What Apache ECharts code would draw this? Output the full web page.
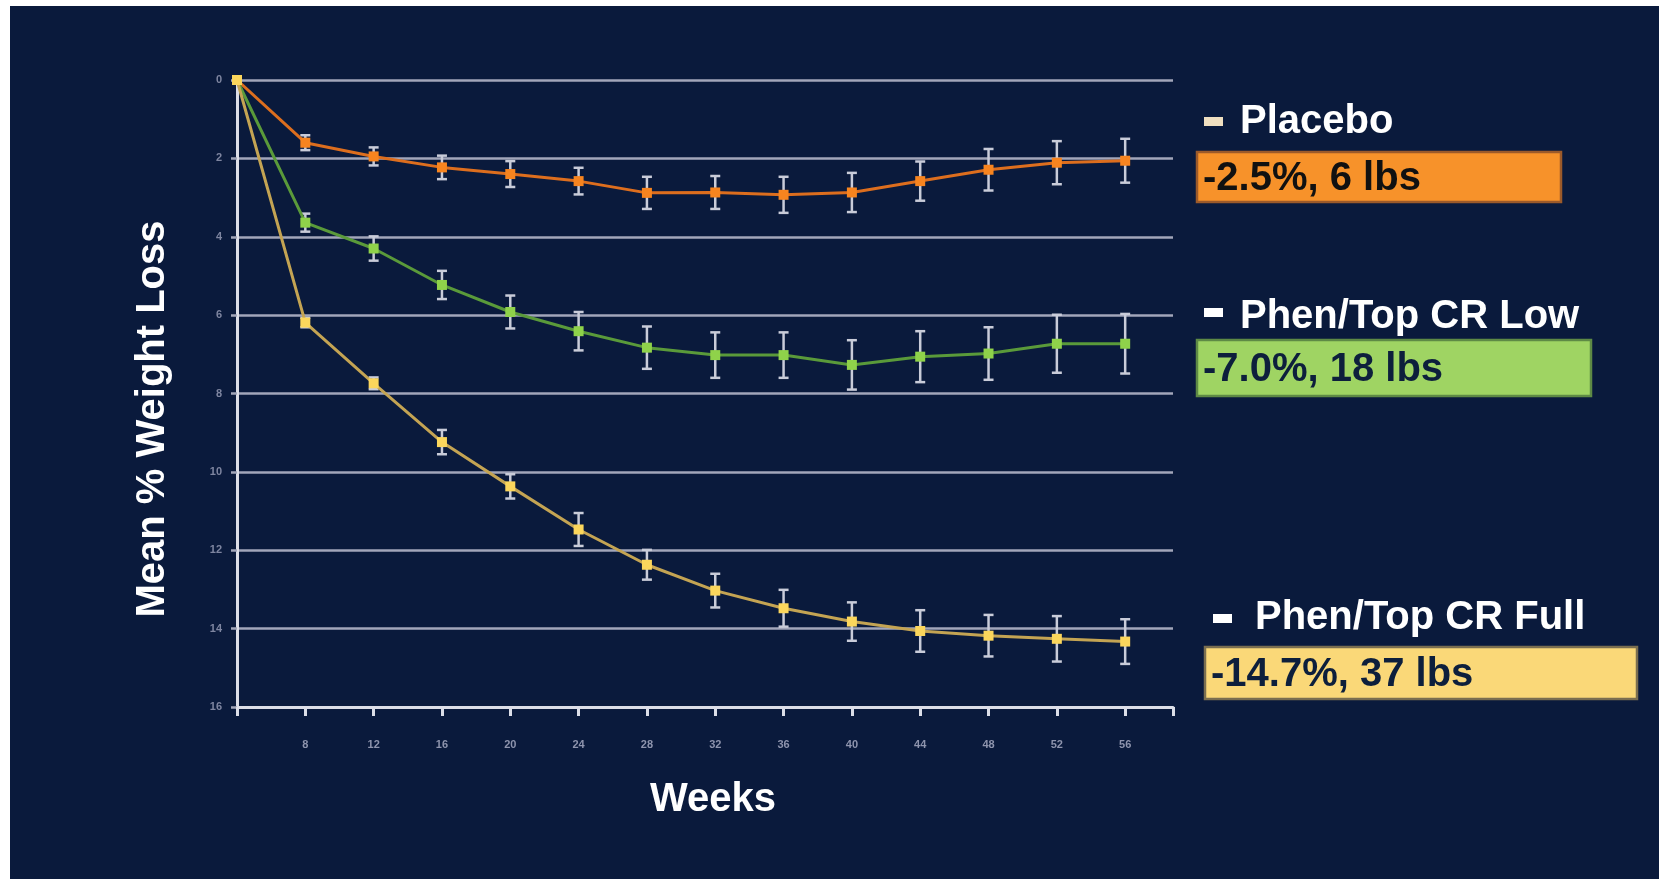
<!DOCTYPE html>
<html>
<head>
<meta charset="utf-8">
<title>Mean % Weight Loss by Week</title>
<script src="https://cdn.jsdelivr.net/npm/echarts@6/dist/echarts.min.js"></script>
<style>
  html, body { margin: 0; padding: 0; background: #ffffff; width: 1659px; height: 879px; overflow: hidden; }
  #chart { position: absolute; left: 10px; top: 6px; width: 1649px; height: 873px; }
</style>
</head>
<body>
<div id="chart"></div>
<script>
// Study weeks (category positions along the x axis)
const weeks = ['0', '8', '12', '16', '20', '24', '28', '32', '36', '40', '44', '48', '52', '56'];
// Y-axis tick labels (mean % weight loss, drawn downward)
const yTicks = [0, 2, 4, 6, 8, 10, 12, 14, 16];

// Mean % weight loss per group, with half-width of the error bars
const placebo    = [0, 1.60, 1.95, 2.23, 2.40, 2.58, 2.88, 2.87, 2.93, 2.87, 2.58, 2.29, 2.11, 2.06];
const placeboErr = [0, 0.19, 0.23, 0.30, 0.33, 0.34, 0.41, 0.42, 0.46, 0.50, 0.50, 0.53, 0.55, 0.56];
const low        = [0, 3.64, 4.30, 5.23, 5.92, 6.41, 6.83, 7.02, 7.02, 7.27, 7.06, 6.98, 6.73, 6.73];
const lowErr     = [0, 0.23, 0.31, 0.36, 0.42, 0.49, 0.54, 0.58, 0.58, 0.63, 0.65, 0.67, 0.74, 0.76];
const full       = [0, 6.19, 7.74, 9.24, 10.37, 11.47, 12.37, 13.03, 13.48, 13.82, 14.06, 14.18, 14.26, 14.33];
const fullErr    = [0, 0.12, 0.15, 0.31, 0.31, 0.42, 0.38, 0.43, 0.47, 0.49, 0.53, 0.53, 0.58, 0.57];

// Group names and summary figures shown beside the plot
const groupNames = ['Placebo', 'Phen/Top CR Low', 'Phen/Top CR Full'];
const groupSummaries = ['-2.5%, 6 lbs', '-7.0%, 18 lbs', '-14.7%, 37 lbs'];

const BG = '#0a1a3c';
const GRID = '#a2a6ba';
const AXIS = '#dcdee8';
const ERR = '#c9ccd9';

function pts(values) { return weeks.map((w, i) => [i, values[i]]); }
function errPts(values, errs) {
  return weeks.map((w, i) => [i, values[i], errs[i]]).filter(d => d[2] > 0);
}

function errorBars(params, api) {
  const x = api.value(0), y = api.value(1), e = api.value(2);
  const top = api.coord([x, y - e]);
  const bot = api.coord([x, y + e]);
  const hw = 5;
  const style = { stroke: ERR, lineWidth: 2.5 };
  return {
    type: 'group',
    children: [
      { type: 'line', shape: { x1: top[0], y1: top[1], x2: bot[0], y2: bot[1] }, style: style },
      { type: 'line', shape: { x1: top[0] - hw, y1: top[1], x2: top[0] + hw, y2: top[1] }, style: style },
      { type: 'line', shape: { x1: bot[0] - hw, y1: bot[1], x2: bot[0] + hw, y2: bot[1] }, style: style }
    ]
  };
}

function lineSeries(name, values, lineColor, markColor) {
  return {
    name: name,
    type: 'line',
    data: pts(values),
    z: 4,
    symbol: 'rect',
    symbolSize: 10,
    showAllSymbol: true,
    lineStyle: { color: lineColor, width: 3 },
    itemStyle: { color: markColor },
    emphasis: { disabled: true },
    animation: false
  };
}

function errSeries(values, errs) {
  return {
    type: 'custom',
    renderItem: errorBars,
    data: errPts(values, errs),
    z: 3,
    silent: true,
    animation: false
  };
}

const labelFont = 'Liberation Sans, Arial, sans-serif';
const big = 'bold 40px ' + labelFont;

function legendBlock(idx, dash, text, box, fill, stroke, textColor, dashColor) {
  return [
    { type: 'rect', shape: { x: dash[0], y: dash[1], width: 19, height: 9 }, style: { fill: dashColor } },
    { type: 'text', x: text[0], y: text[1],
      style: { text: groupNames[idx], font: big, fill: '#ffffff', verticalAlign: 'middle', align: 'left' } },
    { type: 'rect', shape: { x: box[0], y: box[1], width: box[2], height: box[3] },
      style: { fill: fill, stroke: stroke, lineWidth: 2.5 } },
    { type: 'text', x: box[0] + 6, y: box[1] + box[3] / 2 + 2,
      style: { text: groupSummaries[idx], font: big, fill: textColor, verticalAlign: 'middle', align: 'left' } }
  ];
}

const chart = echarts.init(document.getElementById('chart'), null, { renderer: 'canvas' });
chart.setOption({
  backgroundColor: BG,
  animation: false,
  grid: { left: 227, top: 74, width: 936, height: 627, containLabel: false },
  xAxis: {
    type: 'value',
    min: 0,
    max: 13.7,
    interval: 1,
    axisLine: { show: true, onZero: false, lineStyle: { color: AXIS, width: 3 } },
    axisTick: { show: true, length: 9, lineStyle: { color: AXIS, width: 3 } },
    splitLine: { show: false },
    axisLabel: {
      margin: 32,
      color: '#8e94ad',
      fontSize: 11,
      fontWeight: 'bold',
      fontFamily: labelFont,
      formatter: v => (Number.isInteger(v) && v > 0 && v < weeks.length) ? weeks[v] : ''
    }
  },
  yAxis: {
    type: 'value',
    inverse: true,
    min: yTicks[0],
    max: yTicks[yTicks.length - 1],
    interval: 2,
    axisLine: { show: true, onZero: false, lineStyle: { color: AXIS, width: 3 } },
    axisTick: { show: true, length: 6, lineStyle: { color: GRID, width: 2.5 } },
    splitLine: { show: true, lineStyle: { color: GRID, width: 2.5 } },
    axisLabel: {
      margin: 15,
      color: '#7e85a0',
      fontSize: 11,
      fontWeight: 'bold',
      fontFamily: labelFont,
      formatter: v => yTicks.indexOf(v) >= 0 ? String(v) : ''
    }
  },
  series: [
    errSeries(placebo, placeboErr),
    errSeries(low, lowErr),
    errSeries(full, fullErr),
    lineSeries(groupNames[0], placebo, '#dd6e1e', '#f7841f'),
    lineSeries(groupNames[1], low, '#5a9a3a', '#8fd24a'),
    lineSeries(groupNames[2], full, '#c4a453', '#fbd65c')
  ],
  graphic: [
    { type: 'text', x: 703, y: 794,
      style: { text: 'Weeks', font: big, fill: '#ffffff', align: 'center', verticalAlign: 'middle' } },
    { type: 'text', x: 143, y: 413, rotation: Math.PI / 2,
      style: { text: 'Mean % Weight Loss', font: big, fill: '#ffffff', align: 'center', verticalAlign: 'middle' } }
  ]
    .concat(legendBlock(0, [1194, 111], [1230, 116], [1187, 146, 364, 50], '#f7922a', '#9c5a2a', '#111111', '#efdfc0'))
    .concat(legendBlock(1, [1194, 302], [1230, 311], [1187, 334, 394, 56], '#9fd463', '#5e8a45', '#0d1f3c', '#ffffff'))
    .concat(legendBlock(2, [1203, 608], [1245, 612], [1195, 641, 432, 52], '#fad878', '#7a6e50', '#0d1f3c', '#ffffff'))
});
</script>
</body>
</html>
